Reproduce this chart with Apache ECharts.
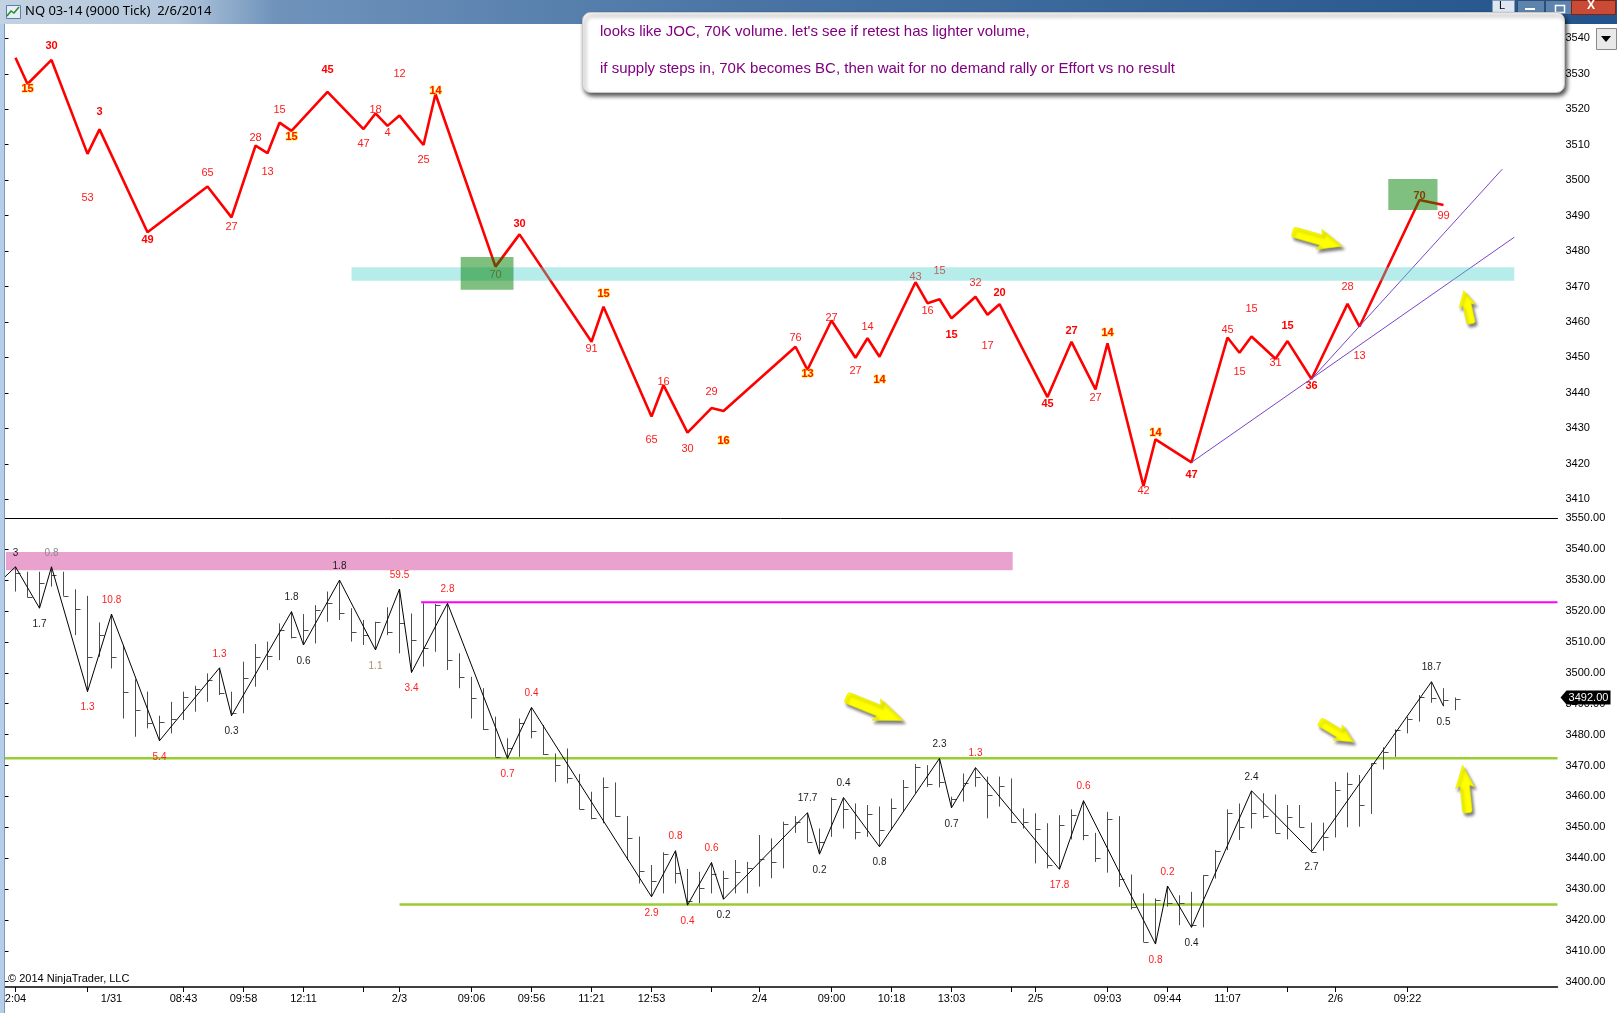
<!DOCTYPE html>
<html><head><meta charset="utf-8">
<script src="https://cdn.jsdelivr.net/npm/echarts@6/dist/echarts.min.js"></script>
<style>html,body{margin:0;padding:0;background:#fff;overflow:hidden}#c{width:1617px;height:1013px}</style>
</head><body><div id="c"></div>
<script>
// ---------------- DATA ----------------
// Top panel: wave swing points (bar index, price) and wave volume labels
const topZigIdx = [1,2,4,7,8,12,17,19,21,22,23,24,27,30,31,32,33,35,36,41,43,49,50,54,55,57,59,60,66,67,69,71,72,73,76,77,78,79,81,82,83,87,89,91,92,95,96,99,102,103,104,106,107,109,112,113,118,120];
const topZigPrice = [3534.5,3527.1,3533.9,3507.4,3514.3,3485.3,3498.2,3489.5,3509.7,3507.6,3516.2,3513.9,3524.9,3514.4,3518.8,3515.3,3518.2,3509.9,3524.3,3475.6,3484.7,3454.4,3464.3,3433.3,3442.2,3428.8,3435.7,3434.9,3453.0,3446.5,3460.4,3449.9,3455.4,3450.2,3471.2,3465.3,3466.4,3461.0,3467.1,3462.0,3465.0,3438.8,3454.4,3441.0,3454.0,3413.7,3426.9,3420.4,3455.6,3451.3,3455.9,3449.6,3454.6,3443.9,3465.1,3458.7,3494.4,3493.0];
const topZigVol = ['','15','30','53','3','49','65','27','28','13','15','15','45','47','18','4','12','25','14','70','30','91','15','65','16','30','29','16','76','13','27','27','14','14','43','16','15','15','32','17','20','45','27','27','14','42','14','47','45','15','15','31','15','36','28','13','70','99'];

// Bottom panel: price bars (index 1..121): high, low, close
const barHigh = [3534.3,3532.7,3532.7,3534.3,3532.7,3527.0,3524.9,3516.3,3519.0,3509.0,
 3497.9,3493.9,3486.1,3490.6,3493.9,3495.8,3499.8,3501.6,3493.9,3503.6,
 3509.3,3510.1,3516.0,3519.8,3519.0,3521.9,3526.3,3530.0,3520.9,3517.1,
 3516.5,3521.2,3527.1,3519.2,3522.5,3522.3,3522.5,3506.3,3498.7,3495.0,
 3485.8,3478.8,3485.2,3488.8,3483.1,3473.9,3475.5,3467.2,3461.5,3466.1,
 3464.5,3453.6,3447.0,3437.8,3441.9,3442.4,3436.5,3435.6,3438.6,3435.9,
 3439.4,3438.8,3447.5,3446.4,3451.8,3453.6,3454.7,3449.6,3459.6,3459.6,
 3457.7,3457.2,3456.7,3459.3,3465.3,3470.5,3470.1,3472.3,3459.9,3467.4,
 3469.3,3466.4,3466.4,3465.8,3456.1,3454.5,3451.3,3453.9,3455.8,3458.6,
 3448.2,3455.0,3453.6,3434.7,3428.6,3427.0,3431.0,3428.0,3429.1,3434.5,
 3442.6,3455.8,3457.7,3461.8,3461.0,3460.6,3457.2,3457.2,3451.5,3451.5,
 3464.7,3467.7,3466.9,3470.7,3475.9,3481.7,3485.8,3492.8,3497.1,3495.0,
 3492.0];
const barLow = [3526.3,3524.4,3520.9,3527.9,3524.9,3512.2,3493.9,3505.2,3501.4,3485.2,
 3479.3,3482.0,3478.0,3480.4,3484.7,3487.4,3490.6,3492.8,3486.1,3486.9,
 3495.5,3500.9,3504.1,3511.1,3509.0,3509.5,3516.5,3517.1,3510.1,3509.0,
 3507.4,3512.2,3506.3,3500.1,3502.0,3506.8,3500.9,3495.0,3485.2,3481.5,
 3472.8,3472.3,3472.8,3478.8,3473.4,3464.7,3464.2,3455.8,3452.6,3451.3,
 3453.4,3439.4,3431.8,3427.5,3428.6,3431.8,3424.8,3425.4,3428.6,3426.7,
 3428.6,3428.6,3430.8,3433.5,3436.7,3448.2,3445.3,3441.3,3446.9,3449.6,
 3446.1,3446.9,3443.7,3449.1,3455.0,3461.0,3463.1,3462.9,3456.3,3458.3,
 3463.1,3452.9,3456.7,3451.5,3449.6,3438.3,3436.7,3436.4,3446.1,3445.8,
 3438.8,3435.3,3430.7,3423.4,3412.9,3412.2,3424.3,3418.3,3417.6,3417.6,
 3433.4,3442.6,3445.9,3449.6,3452.9,3448.2,3446.1,3450.0,3442.1,3442.4,
 3446.7,3450.0,3450.2,3454.3,3468.7,3472.8,3480.4,3484.2,3490.3,3489.2,
 3487.9];
const barClose = [3532.4,3524.4,3528.9,3531.6,3524.9,3520.5,3505.2,3512.2,3505.2,3493.9,
 3487.9,3483.9,3484.2,3485.2,3492.3,3494.6,3497.6,3493.3,3487.1,3498.2,
 3505.2,3505.4,3514.0,3511.5,3513.8,3520.3,3522.7,3519.5,3513.3,3512.2,
 3516.5,3513.3,3516.0,3510.6,3507.9,3521.9,3504.1,3498.7,3491.9,3481.7,
 3472.8,3475.5,3483.6,3481.3,3473.7,3470.1,3465.8,3455.8,3452.9,3463.1,
 3453.7,3446.4,3435.9,3432.7,3441.5,3435.1,3426.0,3430.5,3434.9,3433.7,
 3435.6,3436.7,3439.6,3438.6,3451.0,3451.8,3445.3,3445.3,3459.3,3455.8,
 3448.6,3454.2,3449.1,3456.1,3462.9,3469.6,3463.9,3464.7,3459.3,3464.2,
 3466.4,3460.6,3463.3,3451.8,3451.8,3449.6,3437.8,3450.7,3453.9,3447.5,
 3439.9,3452.7,3433.4,3424.3,3412.9,3426.4,3425.4,3425.4,3418.3,3434.5,
 3442.4,3454.7,3450.0,3454.7,3453.6,3448.2,3453.4,3450.0,3442.1,3447.0,
 3462.0,3464.0,3457.2,3470.7,3474.4,3481.5,3485.2,3492.3,3491.7,3491.2,
 3491.5];
const firstBarIndex = 1;
const lastPrice = 3492.00;

// Bottom panel: zigzag swing points and their labels
const botZigIdx = [0,1,3,4,7,9,13,18,19,24,25,28,31,33,34,37,42,44,54,56,57,59,60,67,68,70,73,78,79,81,88,90,96,97,99,104,109,119,120];
const botZigPrice = [3530.6,3534.3,3520.9,3534.3,3493.9,3519.0,3478.0,3501.6,3486.1,3519.8,3509.0,3530.0,3507.4,3527.1,3500.1,3522.5,3472.3,3488.8,3427.5,3442.4,3424.8,3438.6,3426.7,3454.7,3441.3,3459.6,3443.7,3472.3,3456.3,3469.3,3436.4,3458.6,3412.2,3431.0,3417.6,3461.8,3442.1,3497.1,3489.2];
const botZigVol = ['','3','1.7','0.8','1.3','10.8','5.4','1.3','0.3','1.8','0.6','1.8','1.1','59.5','3.4','2.8','0.7','0.4','2.9','0.8','0.4','0.6','0.2','17.7','0.2','0.4','0.8','2.3','0.7','1.3','17.8','0.6','0.8','0.2','0.4','2.4','2.7','18.7','0.5'];

// Time axis
const timeLabelIdx = [1,9,15,20,25,33,39,44,49,54,63,69,74,79,86,92,97,102,111,117];
const timeLabels = ['2:04','1/31','08:43','09:58','12:11','2/3','09:06','09:56','11:21','12:53','2/4','09:00','10:18','13:03','2/5','09:03','09:44','11:07','2/6','09:22'];
const timeTickIdx = [1,7,15,20,25,30,33,39,44,49,54,59,63,69,74,79,84,86,92,97,102,107,111,117];
const topPriceTicks = [3410,3420,3430,3440,3450,3460,3470,3480,3490,3500,3510,3520,3530,3540];
const botPriceTicks = [3400,3410,3420,3430,3440,3450,3460,3470,3480,3490,3500,3510,3520,3530,3540,3550];

// Drawn zones [fromIdx, toIdx, lowPrice, highPrice]
const topZones = [[29.0,125.9,3471.6,3475.4],[38.1,42.5,3469.1,3478.3],[115.4,119.5,3491.6,3500.3]];
const botZones = [[0.2,84.1,3533.2,3539.1]];
// Horizontal levels [fromIdx, toIdx, price]
const botLevels = [[34.8,129.5,3522.8],[0,129.5,3472.3],[33.0,129.5,3425.0]];
// Trend lines [idx1, price1, idx2, price2]
const topTrend = [[99,3420.4,125.9,3483.9],[109,3443.9,124.9,3503.1]];
// Arrow annotations [idx, price, angleDeg]
const topArrows = [[109.5,3483.4,-16],[122,3464.2,103]];
const botArrows = [[72.6,3488.3,-22],[111.1,3480.9,-31],[121.8,3462.4,96]];

const noteLines = ["looks like JOC, 70K volume. let's see if retest has lighter volume,",
  "if supply steps in, 70K becomes BC, then wait for no demand rally or Effort vs no result"];
const windowTitle = 'NQ 03-14 (9000 Tick)  2/6/2014';
const copyright = '\u00a9 2014 NinjaTrader, LLC';

// ---------------- STYLES ----------------
const FONT = '"Liberation Sans", Arial, sans-serif';
const topLabelStyle = ['n','y','b','n','b','b','n','n','n','n','n','y','b','n','n','n','n','n','y','n','b','n','y','n','n','n','n','y','n','y','n','n','n','y','n','n','n','b','n','n','b','b','b','n','y','n','y','b','n','n','n','n','b','b','n','n','b','n'];
const topLabelDy = [0,5,-14,44,-17,8,-14,10,-8,19,-13,6,-22,15,-3,7,-42,15,-3,8,-10,7,-13,23,-3,16,-16,30,-9,4,-3,13,-11,23,-5,8,-28,17,-14,31,-11,7,-11,9,-10,5,-6,13,-8,19,-28,4,-15,7,-17,29,-4,11];
const topStyleMap = {
  n:{color:'#ff1a1a',fontWeight:'normal'},
  b:{color:'#ff0000',fontWeight:'bold'},
  y:{color:'#ff1800',fontWeight:'bold',textBorderColor:'rgba(255,225,0,0.9)',textBorderWidth:1}
};
const botLabelColor = ['', 'k','k','g','r','r','r','r','k','k','k','k','t','r','r','r','r','r','r','r','r','r','k','k','k','k','k','k','k','r','r','r','r','r','k','k','k','k','k'];
const botColorMap = {k:'#1c1c1c', r:'#ff2020', g:'#8a8a8a', t:'#b0906a'};
const topZoneColors = ['rgba(72,209,204,0.40)','rgba(0,128,0,0.50)','rgba(0,128,0,0.50)'];
const botZoneColors = ['rgba(199,21,133,0.40)'];
const levelStyles = [{c:'#ff00ff',w:2},{c:'#9acd32',w:2.5},{c:'#9acd32',w:2.5}];
const arrowPath = 'path://M2,5 Q0,5 0,7.5 L0,12.5 Q0,15 2,15 L23,15 L21,20 L40,10 L21,0 L23,5 Z';
const tagPath = 'path://M0,7 L6,0 L50,0 L50,14 L6,14 Z';
const topArrowSize = [[52,21],[34,17]];
const botArrowSize = [[62,23],[40,18],[48,19]];

// ---------------- BUILD ----------------
const X_MAX = 129.5;
function labelAt(txt, dy, extra){
  return Object.assign({show: txt!=='', formatter: txt, position:[0.5, 0.5 + dy], align:'center', verticalAlign:'middle', fontFamily:FONT}, extra);
}
const topZigData = topZigIdx.map((x,k)=>{
  const st = topStyleMap[topLabelStyle[k]] || topStyleMap.n;
  return {value:[x, topZigPrice[k]], label:labelAt(topZigVol[k], topLabelDy[k], Object.assign({fontSize:11}, st))};
});
const botZigData = botZigIdx.map((x,k)=>{
  const p = botZigPrice[k];
  const nb = [];
  if (k>0) nb.push(botZigPrice[k-1]);
  if (k<botZigPrice.length-1) nb.push(botZigPrice[k+1]);
  const isPeak = p >= Math.max.apply(null, nb);
  return {value:[x, p], label:labelAt(botZigVol[k], isPeak ? -14 : 16, {fontSize:10, color: botColorMap[botLabelColor[k]] || '#1c1c1c'})};
});
const barData = barHigh.map((h,k)=>[k+firstBarIndex, h, barLow[k], barClose[k]]);
const timeMap = {}; timeLabelIdx.forEach((v,k)=>timeMap[v]=timeLabels[k]);

function zoneRender(colors){
  return function(params, api){
    const a = api.coord([api.value(0), api.value(3)]);
    const b = api.coord([api.value(1), api.value(2)]);
    return {type:'rect', shape:{x:a[0], y:a[1], width:b[0]-a[0], height:b[1]-a[1]}, style:{fill:colors[params.dataIndex]}};
  };
}
function arrowPoints(list, sizes){
  return list.map((a,k)=>({coord:[a[0],a[1]], symbol:arrowPath, symbolSize:sizes[k], symbolRotate:a[2], symbolKeepAspect:false, label:{show:false}}));
}
const arrowItemStyle = {color:'#ffff00', borderColor:'#e6e600', borderWidth:0.5, shadowColor:'rgba(0,0,0,0.5)', shadowBlur:3, shadowOffsetX:2, shadowOffsetY:3};

const chart = echarts.init(document.getElementById('c'), null, {renderer:'canvas'});
const option = {
  animation:false,
  backgroundColor:'#ffffff',
  grid:[
    {left:3.5, right:59.5, top:25, height:493, outerBoundsMode:'none'},
    {left:3.5, right:59.5, top:518, height:469, outerBoundsMode:'none'}
  ],
  xAxis:[
    {type:'value', gridIndex:0, min:0, max:X_MAX, axisLine:{show:true, onZero:false, lineStyle:{color:'#000', width:1}}, axisTick:{show:false}, axisLabel:{show:false}, splitLine:{show:false}},
    {type:'value', gridIndex:1, min:0, max:X_MAX, axisLine:{show:true, onZero:false, lineStyle:{color:'#000', width:1.5}},
     axisTick:{show:true, length:5, customValues:timeTickIdx, lineStyle:{color:'#000'}},
     axisLabel:{show:true, customValues:timeLabelIdx, formatter:v=>timeMap[v]||'', fontSize:11, fontFamily:FONT, color:'#000', margin:6},
     splitLine:{show:false}}
  ],
  yAxis:[
    {type:'value', gridIndex:0, position:'right', min:3404.7, max:3543.75, axisLine:{show:true, lineStyle:{color:'#000', width:1.5}},
     axisTick:{show:true, length:5, customValues:topPriceTicks, lineStyle:{color:'#000'}},
     axisLabel:{show:true, customValues:topPriceTicks, formatter:v=>String(Math.round(v)), fontSize:11, fontFamily:FONT, color:'#000', margin:8}, splitLine:{show:false}},
    {type:'value', gridIndex:1, position:'right', min:3398.3, max:3550.1, axisLine:{show:true, lineStyle:{color:'#000', width:1.5}},
     axisTick:{show:true, length:5, customValues:botPriceTicks, lineStyle:{color:'#000'}},
     axisLabel:{show:true, customValues:botPriceTicks, formatter:v=>Number(v).toFixed(2), fontSize:11, fontFamily:FONT, color:'#000', margin:8}, splitLine:{show:false}}
  ],
  series:[
    // ---- top panel ----
    {type:'line', name:'wave', xAxisIndex:0, yAxisIndex:0, data:topZigData, z:3,
     lineStyle:{color:'#ff0000', width:2.6}, symbol:'circle', symbolSize:1, showSymbol:true, showAllSymbol:true,
     itemStyle:{color:'rgba(0,0,0,0)'},
     markPoint:{silent:true, label:{show:false}, itemStyle:arrowItemStyle, data:arrowPoints(topArrows, topArrowSize)}},
    {type:'custom', name:'trend', xAxisIndex:0, yAxisIndex:0, z:4, clip:true, encode:{x:[0,2], y:[1,3]},
     data:topTrend, renderItem:function(params, api){
       const a = api.coord([api.value(0), api.value(1)]), b = api.coord([api.value(2), api.value(3)]);
       return {type:'line', shape:{x1:a[0],y1:a[1],x2:b[0],y2:b[1]}, style:{stroke:'#7b44c4', lineWidth:1}};
     }},
    {type:'custom', name:'topZones', xAxisIndex:0, yAxisIndex:0, z:6, clip:true, encode:{x:[0,1], y:[2,3]},
     data:topZones, renderItem:zoneRender(topZoneColors)},
    // ---- bottom panel ----
    {type:'custom', name:'botZones', xAxisIndex:1, yAxisIndex:1, z:1, clip:true, encode:{x:[0,1], y:[2,3]},
     data:botZones, renderItem:zoneRender(botZoneColors)},
    {type:'custom', name:'levels', xAxisIndex:1, yAxisIndex:1, z:2, clip:true, encode:{x:[0,1], y:2},
     data:botLevels, renderItem:function(params, api){
       const a = api.coord([api.value(0), api.value(2)]), b = api.coord([api.value(1), api.value(2)]);
       const s = levelStyles[params.dataIndex];
       return {type:'line', shape:{x1:a[0],y1:a[1],x2:b[0],y2:b[1]}, style:{stroke:s.c, lineWidth:s.w}};
     }},
    {type:'custom', name:'bars', xAxisIndex:1, yAxisIndex:1, z:3, clip:true, encode:{x:0, y:[1,2,3]},
     data:barData, renderItem:function(params, api){
       const h = api.coord([api.value(0), api.value(1)]), l = api.coord([api.value(0), api.value(2)]), c = api.coord([api.value(0), api.value(3)]);
       const X = Math.floor(h[0]) + 0.5, cy = Math.round(c[1]) + 0.5;
       return {type:'group', children:[
         {type:'line', shape:{x1:X, y1:h[1], x2:X, y2:l[1]}, style:{stroke:'#4d4d4d', lineWidth:1}},
         {type:'line', shape:{x1:X, y1:cy, x2:X+5, y2:cy}, style:{stroke:'#4d4d4d', lineWidth:1}}
       ]};
     }},
    {type:'line', name:'zigzag', xAxisIndex:1, yAxisIndex:1, data:botZigData, z:4,
     lineStyle:{color:'#000000', width:1}, symbol:'circle', symbolSize:1, showSymbol:true, showAllSymbol:true,
     itemStyle:{color:'rgba(0,0,0,0)'},
     markPoint:{silent:true, label:{show:false}, itemStyle:arrowItemStyle,
       data:arrowPoints(botArrows, botArrowSize).concat([{
         coord:[X_MAX, lastPrice], symbol:tagPath, symbolSize:[50,14], symbolOffset:[28,0], symbolKeepAspect:false,
         itemStyle:{color:'#000', borderWidth:0, shadowBlur:0, shadowOffsetX:0, shadowOffsetY:0},
         label:{show:true, position:'inside', offset:[3,0], formatter:lastPrice.toFixed(2), color:'#fff', fontSize:11, fontFamily:FONT}
       }])}}
  ],
  graphic:[
    // window title bar
    {type:'rect', left:0, top:0, shape:{width:1617, height:24}, z:100,
     style:{fill:new echarts.graphic.LinearGradient(0,0,1,0,[{offset:0,color:'#c3d2e2'},{offset:0.11,color:'#b2c6dc'},{offset:0.17,color:'#6f93bb'},{offset:0.45,color:'#4a75a5'},{offset:1,color:'#23538a'}])}},
    {type:'rect', left:6, top:5, shape:{width:14, height:13}, z:101, style:{fill:'#e8eef5', stroke:'#5a7fa8', lineWidth:1}},
    {type:'polyline', z:102, shape:{points:[[7,16],[11,11],[14,13],[19,7]]}, style:{stroke:'#2a8a2a', lineWidth:1.5, fill:null}},
    {type:'text', left:25, top:5, z:101, style:{text:windowTitle, font:'13px "Noto Sans", "DejaVu Sans", sans-serif', fill:'#000'}},
    {type:'rect', left:1492, top:0, shape:{width:22, height:13}, z:101, style:{fill:'#dfe8f2', stroke:'#7f9bbb', lineWidth:1}},
    {type:'text', left:1499, top:0, z:102, style:{text:'L', font:'11px "Liberation Sans", sans-serif', fill:'#000'}},
    {type:'rect', left:1517, top:0, shape:{width:27, height:14}, z:101, style:{fill:'#5e84ae', stroke:'#2c4f78', lineWidth:1}},
    {type:'rect', left:1525, top:8, shape:{width:10, height:2}, z:102, style:{fill:'#fff'}},
    {type:'rect', left:1545, top:0, shape:{width:26, height:14}, z:101, style:{fill:'#5e84ae', stroke:'#2c4f78', lineWidth:1}},
    {type:'rect', left:1553, top:3, shape:{width:9, height:7}, z:102, style:{fill:null, stroke:'#fff', lineWidth:1.5}},
    {type:'rect', left:1571, top:0, shape:{width:44, height:14}, z:101, style:{fill:'#c94a35', stroke:'#7a2518', lineWidth:1}},
    {type:'text', left:1587, top:0, z:102, style:{text:'X', font:'bold 12px "Liberation Sans", sans-serif', fill:'#fff'}},
    // left window border
    {type:'rect', left:0, top:24, shape:{width:5, height:989}, z:100, style:{fill:'#b4cde8'}},
    {type:'rect', left:4, top:24, shape:{width:1, height:989}, z:100, style:{fill:'#7f98b5'}},
    // dropdown button
    {type:'rect', left:1596, top:28, shape:{width:20, height:21}, z:100, style:{fill:'#e9e9e9', stroke:'#8a8a8a', lineWidth:1}},
    {type:'polygon', z:101, shape:{points:[[1601,36],[1611,36],[1606,42]]}, style:{fill:'#000'}},
    // copyright
    {type:'text', left:8, top:973, z:100, style:{text:copyright, font:'11px "Liberation Sans", Arial, sans-serif', fill:'#000'}},
    // note box
    {type:'rect', left:582, top:12, shape:{width:982, height:80, r:8}, z:110,
     style:{fill:'#ffffff', stroke:'#c8c8c8', lineWidth:1, shadowBlur:4, shadowOffsetX:2, shadowOffsetY:3, shadowColor:'rgba(0,0,0,0.7)'}},
    {type:'text', left:600, top:24, z:111, style:{text:noteLines[0], font:'15px "Liberation Sans", Arial, sans-serif', fill:'#800080'}},
    {type:'text', left:600, top:61, z:111, style:{text:noteLines[1], font:'15px "Liberation Sans", Arial, sans-serif', fill:'#800080'}}
  ]
};
chart.setOption(option);
</script>
</body></html>
